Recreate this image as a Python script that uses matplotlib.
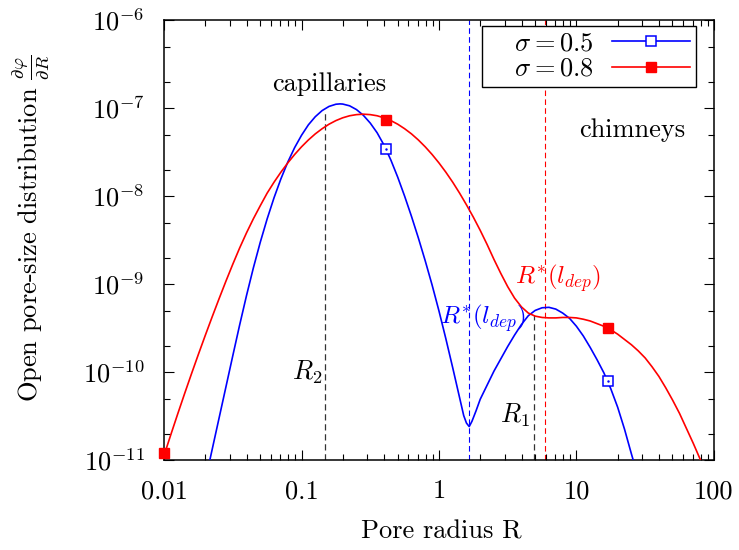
import numpy as np
import matplotlib
matplotlib.use("Agg")
import matplotlib.pyplot as plt
from matplotlib.ticker import FixedLocator, FixedFormatter, NullFormatter

plt.rcParams['font.family'] = 'serif'
plt.rcParams['font.serif'] = ['cmr10']
plt.rcParams['mathtext.fontset'] = 'cm'
plt.rcParams['axes.formatter.use_mathtext'] = True
plt.rcParams['axes.unicode_minus'] = False

# ---- data: log10 of pore radius R and of the distribution ----
blue_logR = [-1.70, -1.65, -1.60, -1.55, -1.50, -1.45, -1.40, -1.35, -1.30, -1.25, -1.20, -1.15,
             -1.10, -1.05, -1.00, -0.95, -0.90, -0.85, -0.80, -0.75, -0.72, -0.70, -0.65, -0.60,
             -0.55, -0.50, -0.45, -0.40, -0.35, -0.30, -0.25, -0.20, -0.15, -0.10, -0.05, 0.00,
             0.05, 0.10, 0.15, 0.18, 0.20, 0.22, 0.24, 0.27, 0.30, 0.35, 0.40, 0.45, 0.50, 0.55,
             0.60, 0.65, 0.70, 0.75, 0.80, 0.85, 0.90, 0.95, 1.00, 1.05, 1.10, 1.15, 1.20, 1.25,
             1.30, 1.35, 1.40, 1.45]
blue_logy = [-11.235, -10.88, -10.525, -10.17, -9.815, -9.465, -9.13, -8.815, -8.525, -8.26, -8.02, -7.805,
             -7.615, -7.45, -7.31, -7.191, -7.099, -7.029, -6.982, -6.957, -6.953, -6.955, -6.975, -7.018,
             -7.083, -7.171, -7.281, -7.421, -7.591, -7.786, -8.001, -8.231, -8.476, -8.736, -9.011, -9.306,
             -9.621, -9.951, -10.291, -10.495, -10.58, -10.62, -10.56, -10.44, -10.31, -10.15, -9.99, -9.85, -9.71, -9.58,
             -9.46, -9.36, -9.30, -9.27, -9.265, -9.285, -9.33, -9.39, -9.48, -9.59, -9.72, -9.86, -10.01, -10.19,
             -10.40, -10.65, -10.93, -11.20]

red_logR = [-2.00, -1.95, -1.90, -1.85, -1.80, -1.75, -1.70, -1.65, -1.60, -1.55, -1.50, -1.45,
            -1.40, -1.35, -1.30, -1.25, -1.20, -1.15, -1.10, -1.05, -1.00, -0.95, -0.90, -0.85,
            -0.80, -0.75, -0.70, -0.65, -0.60, -0.55, -0.50, -0.45, -0.40, -0.35, -0.30, -0.25,
            -0.20, -0.15, -0.10, -0.05, 0.00, 0.05, 0.10, 0.15, 0.20, 0.25, 0.30, 0.35, 0.40, 0.45,
            0.50, 0.55, 0.60, 0.65, 0.70, 0.75, 0.80, 0.85, 0.90, 0.95, 1.00, 1.05, 1.10, 1.15,
            1.20, 1.25, 1.30, 1.35, 1.40, 1.45, 1.50, 1.55, 1.60, 1.65, 1.70, 1.75, 1.80, 1.85,
            1.90, 1.95, 2.00]
red_logy = [-10.948, -10.708, -10.473, -10.243, -10.018, -9.798, -9.583, -9.373, -9.168, -8.968, -8.775, -8.590,
            -8.418, -8.258, -8.11, -7.967, -7.843, -7.729, -7.624, -7.528, -7.441, -7.363, -7.294, -7.235,
            -7.184, -7.143, -7.111, -7.088, -7.075, -7.07, -7.075, -7.088, -7.111, -7.143, -7.184, -7.235,
            -7.294, -7.363, -7.441, -7.528, -7.624, -7.729, -7.843, -7.967, -8.10, -8.24, -8.39, -8.55, -8.72, -8.88,
            -9.03, -9.16, -9.26, -9.33, -9.365, -9.38, -9.385, -9.385, -9.38, -9.38, -9.385, -9.40, -9.42, -9.45,
            -9.48, -9.52, -9.57, -9.63, -9.69, -9.76, -9.84, -9.94, -10.05, -10.18, -10.32, -10.47, -10.64, -10.81,
            -10.99, -11.17, -11.36]

blue_marker_R = [0.01, 0.412, 17.0]
blue_marker_y = [1e-13, 3.4e-8, 7.9e-11]
red_marker_R = [0.01, 0.412, 17.0]
red_marker_y = [1.2e-11, 7.4e-8, 3.2e-10]

R2 = 0.148
R2_top = 9.6e-8
R1 = 4.94
R1_top = 4.4e-10
Rstar_blue = 1.66
Rstar_red = 5.9

x_ticks = [0.01, 0.1, 1, 10, 100]
x_tick_labels = ['0.01', '0.1', '1', '10', '100']
y_ticks = [1e-11, 1e-10, 1e-9, 1e-8, 1e-7, 1e-6]
y_tick_labels = [r'$10^{-11}$', r'$10^{-10}$', r'$10^{-9}$', r'$10^{-8}$', r'$10^{-7}$', r'$10^{-6}$']
legend_labels = [r'   $\sigma = 0.5$', r'   $\sigma = 0.8$']

blue_R = np.power(10.0, blue_logR)
blue_y = np.power(10.0, blue_logy)
red_R = np.power(10.0, red_logR)
red_y = np.power(10.0, red_logy)

FS = 19
BLUE = '#0000ff'
RED = '#ff0000'

fig = plt.figure(figsize=(7.39, 5.5), dpi=100)
ax = fig.add_axes([0.222, 0.1636, 0.744, 0.8])
ax.set_xscale('log')
ax.set_yscale('log')
ax.set_xlim(0.01, 100)
ax.set_ylim(1e-11, 1e-6)

# vertical guide lines
ax.plot([Rstar_blue, Rstar_blue], [1e-11, 1e-6], color=BLUE, lw=0.8, ls=(0, (5, 3)), zorder=1)
ax.plot([Rstar_red, Rstar_red], [1e-11, 1e-6], color=RED, lw=0.8, ls=(0, (5, 3)), zorder=1)
ax.plot([R2, R2], [1e-11, R2_top], color='#333333', lw=0.9, ls=(0, (5, 3)), zorder=1)
ax.plot([R1, R1], [1e-11, R1_top], color='#333333', lw=0.9, ls=(0, (5, 3)), zorder=1)

# curves
ax.plot(blue_R, blue_y, color=BLUE, lw=1.2, zorder=3, solid_joinstyle='round')
ax.plot(red_R, red_y, color=RED, lw=1.2, zorder=3, solid_joinstyle='round')
ax.plot(blue_marker_R, blue_marker_y, ls='none', marker='s', ms=6.5, mfc='white',
        mec=BLUE, mew=1.1, zorder=4)
ax.plot(blue_marker_R, blue_marker_y, ls='none', marker='.', ms=1.5, color=BLUE, zorder=5)
ax.plot(red_marker_R, red_marker_y, ls='none', marker='s', ms=7, color=RED, zorder=4,
        clip_on=False)

# legend handles
h1, = ax.plot([], [], color=BLUE, lw=1.2, marker='s', ms=6.5, mfc='white', mec=BLUE, mew=1.1)
h2, = ax.plot([], [], color=RED, lw=1.2, marker='s', ms=7)
leg = ax.legend([h1, h2], legend_labels, loc='upper right', bbox_to_anchor=(0.967, 0.986),
                borderaxespad=0, markerfirst=False, fontsize=FS, handlelength=2.95,
                handletextpad=0.7, borderpad=0.22, labelspacing=0.05, fancybox=False,
                framealpha=1, edgecolor='black', numpoints=1)
leg.get_frame().set_linewidth(1.0)
leg.set_zorder(10)

# annotations
ax.text(10**-0.80, 10**-6.727, 'capillaries', fontsize=FS, ha='center', va='center')
ax.text(10**1.404, 10**-7.25, 'chimneys', fontsize=FS, ha='center', va='center')
ax.text(10**-0.96, 10**-10.0, r'$R_2$', fontsize=FS, ha='center', va='center')
ax.text(10**0.553, 10**-10.49, r'$R_1$', fontsize=FS, ha='center', va='center')
ax.text(10**0.32, 10**-9.39, r'$R^{*}(l_{dep})$', fontsize=FS - 1, ha='center', va='center', color=BLUE)
ax.text(10**0.865, 10**-8.93, r'$R^{*}(l_{dep})$', fontsize=FS - 1, ha='center', va='center', color=RED)

# ticks
ax.xaxis.set_major_locator(FixedLocator(x_ticks))
ax.xaxis.set_major_formatter(FixedFormatter(x_tick_labels))
ax.xaxis.set_minor_formatter(NullFormatter())
ax.yaxis.set_major_locator(FixedLocator(y_ticks))
ax.yaxis.set_major_formatter(FixedFormatter(y_tick_labels))
ax.yaxis.set_minor_locator(FixedLocator([m * 10.0**e for e in range(-11, -6) for m in (2, 5)]))
ax.yaxis.set_minor_formatter(NullFormatter())
ax.tick_params(which='both', direction='in', top=True, right=True, labelsize=FS, width=0.8)
ax.tick_params(which='major', length=7)
ax.tick_params(which='minor', length=4)
ax.tick_params(axis='x', which='major', pad=14)
ax.tick_params(axis='y', which='major', pad=14)
for s in ax.spines.values():
    s.set_linewidth(1.1)

ax.set_xlabel('Pore radius R', fontsize=FS)
ax.xaxis.set_label_coords(0.505, -0.135)
ax.set_ylabel(r'Open pore-size distribution $\frac{\partial\varphi}{\partial R}$', fontsize=FS)
ax.yaxis.set_label_coords(-0.205, 0.527)

fig.savefig('out.png', dpi=100)
